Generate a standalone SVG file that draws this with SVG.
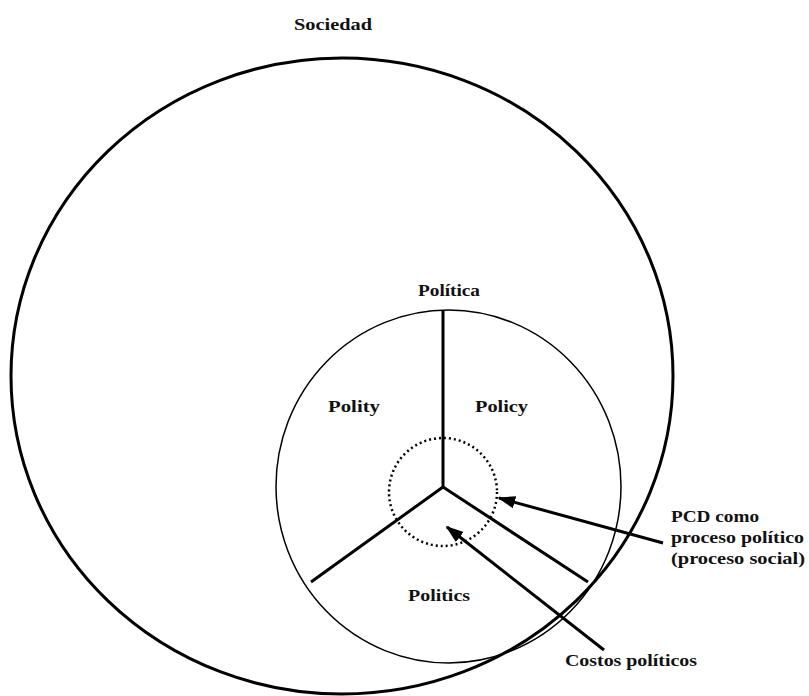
<svg xmlns="http://www.w3.org/2000/svg" width="809" height="696" viewBox="0 0 809 696">
  <style>
    .lbl { font-family: "Liberation Serif", "Times New Roman", serif; font-weight: bold; font-size: 17px; fill: #111; }
    .ring { fill: none; stroke: #000; }
    .spoke { stroke: #000; stroke-width: 3; stroke-linecap: butt; }
    .arrow { stroke: #000; stroke-width: 3; fill: none; }
  </style>
  <defs>
    <marker id="head" viewBox="0 0 10 10" refX="9" refY="5" markerWidth="6" markerHeight="6" markerUnits="strokeWidth" orient="auto">
      <path d="M0,1.5 L10,5 L0,8.5 Z" fill="#000"/>
    </marker>
  </defs>
  <rect width="809" height="696" fill="#fff"/>

  <!-- outer society ring -->
  <g id="sociedad">
    <ellipse class="ring" cx="342" cy="376" rx="331" ry="318" stroke-width="3"/>
    <text class="lbl" x="294" y="30" textLength="78" lengthAdjust="spacingAndGlyphs">Sociedad</text>
  </g>

  <!-- politics ring -->
  <g id="politica">
    <ellipse class="ring" cx="448.5" cy="486.5" rx="172.5" ry="176.5" stroke-width="1.5"/>
    <text class="lbl" x="418" y="296" textLength="62" lengthAdjust="spacingAndGlyphs">Política</text>
  </g>

  <!-- three dividing spokes -->
  <g id="spokes">
    <line class="spoke" x1="443" y1="311" x2="443" y2="487"/>
    <line class="spoke" x1="443" y1="487" x2="311" y2="582"/>
    <line class="spoke" x1="443" y1="487" x2="588" y2="582"/>
  </g>

  <g id="polity"><text class="lbl" x="328" y="412" textLength="52" lengthAdjust="spacingAndGlyphs">Polity</text></g>
  <g id="policy"><text class="lbl" x="475" y="412" textLength="53" lengthAdjust="spacingAndGlyphs">Policy</text></g>
  <g id="politics"><text class="lbl" x="408" y="601" textLength="62" lengthAdjust="spacingAndGlyphs">Politics</text></g>

  <!-- dotted core: PCD as political process -->
  <g id="pcd">
    <circle cx="443" cy="492" r="54" fill="none" stroke="#000" stroke-width="2.5" stroke-dasharray="2 3"/>
    <text class="lbl" x="671" y="522" textLength="88" lengthAdjust="spacingAndGlyphs">PCD como</text>
    <text class="lbl" x="671" y="543" textLength="133" lengthAdjust="spacingAndGlyphs">proceso político</text>
    <text class="lbl" x="671" y="564" textLength="134" lengthAdjust="spacingAndGlyphs">(proceso social)</text>
  </g>

  <g id="costos">
    <text class="lbl" x="565" y="666" textLength="132" lengthAdjust="spacingAndGlyphs">Costos políticos</text>
  </g>

  <g id="connectors">
    <line class="arrow" x1="663" y1="543" x2="499" y2="498" marker-end="url(#head)"/>
    <line class="arrow" x1="604" y1="650" x2="447" y2="527" marker-end="url(#head)"/>
  </g>
</svg>
